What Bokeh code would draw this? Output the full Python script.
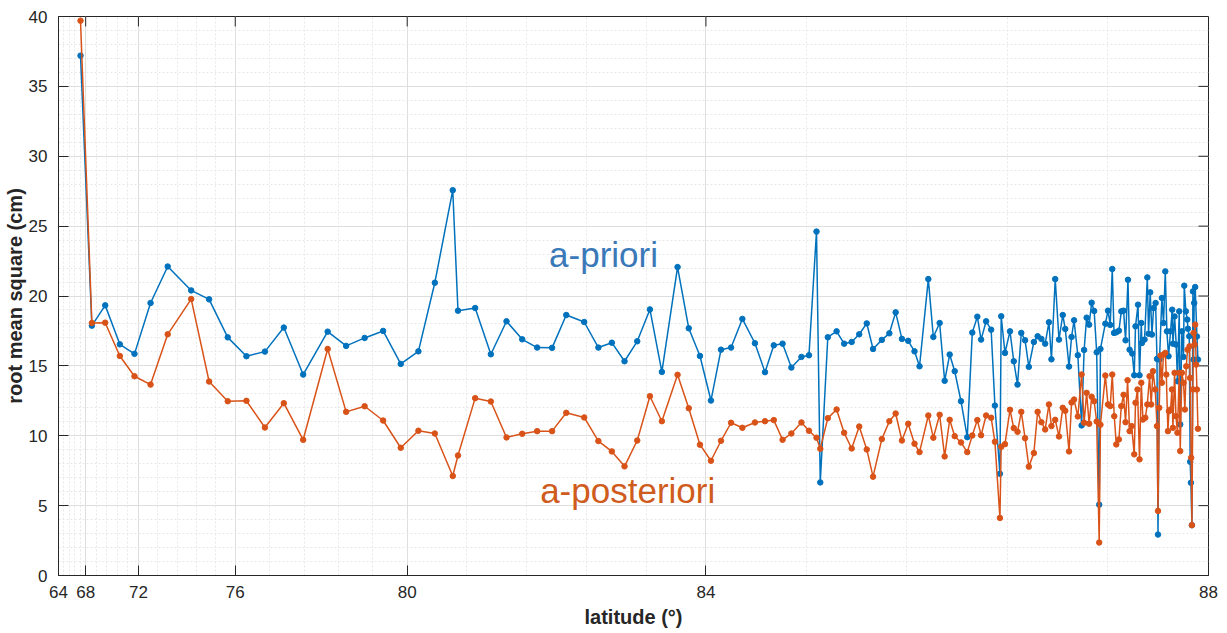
import numpy as np
from bokeh.plotting import figure
from bokeh.models import FixedTicker, Range1d, Label, SingleIntervalTicker
from bokeh.embed import file_html
from bokeh.resources import INLINE

# ---------------- data ----------------
TICK_LAT = [64, 68, 72, 76, 80, 84, 88]
MINOR_STEP_LAT = 0.8
Y_TICKS = [0, 5, 10, 15, 20, 25, 30, 35, 40]

LAT = [67.24, 68.47, 69.48, 70.59, 71.70, 72.50, 73.21, 74.18, 74.92, 75.69,
       76.26, 76.69, 77.13, 77.58, 78.15, 78.58, 79.01, 79.44, 79.85, 80.15,
       80.37, 80.61, 80.68, 80.91, 81.12, 81.33, 81.54, 81.74, 81.94, 82.13,
       82.37, 82.56, 82.74, 82.91, 83.08, 83.25, 83.41, 83.62, 83.77, 83.92,
       84.04, 84.12, 84.20, 84.29, 84.39, 84.47, 84.54, 84.61, 84.68, 84.76,
       84.82, 84.88, 84.91, 84.97, 85.04, 85.10, 85.16, 85.22, 85.28, 85.33,
       85.40, 85.46, 85.51, 85.56, 85.61, 85.66, 85.70, 85.77, 85.81, 85.86,
       85.90, 85.94, 85.98, 86.03, 86.08, 86.12, 86.16, 86.19, 86.23, 86.27,
       86.30, 86.34, 86.35, 86.38, 86.42, 86.45, 86.48, 86.51, 86.54, 86.57,
       86.61, 86.64, 86.67, 86.70, 86.73, 86.75, 86.78, 86.81, 86.84, 86.86,
       86.89, 86.91, 86.93, 86.96, 86.99, 87.01, 87.03, 87.05, 87.07, 87.09,
       87.11, 87.13, 87.14]

A_PRIORI = [37.2, 17.88, 19.33, 16.54, 15.86, 19.50, 22.11, 20.40, 19.76, 17.04,
            15.69, 16.02, 17.74, 14.38, 17.45, 16.43, 17.00, 17.50, 15.14, 16.04,
            20.95, 27.57, 18.95, 19.14, 15.83, 18.19, 16.90, 16.31, 16.29, 18.64,
            18.14, 16.31, 16.66, 15.33, 16.76, 19.04, 14.57, 22.07, 17.69, 15.71,
            12.52, 16.16, 16.31, 18.36, 16.62, 14.55, 16.47, 16.59, 14.88, 15.64,
            15.76, 24.61, 6.66, 17.05, 17.47, 16.59, 16.71, 17.26, 18.04, 16.21,
            16.86, 17.33, 18.83, 16.93, 16.79, 16.04, 14.97, 21.21, 17.07, 18.07,
            13.93, 15.81, 14.62, 12.47, 9.90, 17.38, 18.52, 16.88, 18.19, 17.59,
            12.16, 7.28, 18.55, 15.93, 17.47, 15.33, 13.66, 17.36, 16.83, 14.93,
            16.71, 17.12, 16.93, 16.59, 18.12, 15.47, 21.21, 16.88, 18.64, 17.64,
            14.95, 17.07, 18.26, 15.76, 10.74, 16.14, 18.45, 17.95, 19.52, 18.93,
            15.97, 5.07, 16.21]

A_POSTERIORI = [39.7, 18.07, 18.09, 15.71, 14.26, 13.66, 17.26, 19.78, 13.88, 12.47,
                12.50, 10.59, 12.33, 9.71, 16.21, 11.71, 12.11, 11.09, 9.14, 10.36,
                10.16, 7.12, 8.59, 12.69, 12.45, 9.88, 10.14, 10.33, 10.33, 11.64,
                11.31, 9.62, 8.88, 7.81, 9.66, 12.83, 11.04, 14.36, 11.97, 9.36,
                8.21, 9.64, 10.93, 10.57, 10.95, 11.04, 11.12, 9.71, 10.16, 10.95,
                10.36, 9.86, 9.07, 11.26, 11.88, 10.21, 9.09, 10.66, 9.02, 7.07,
                9.76, 11.04, 11.59, 9.66, 10.86, 9.43, 8.83, 11.45, 9.86, 11.50,
                8.52, 11.14, 9.97, 9.52, 8.83, 10.02, 11.12, 10.04, 11.45, 11.29,
                9.57, 4.12, 9.21, 9.40, 11.86, 10.55, 10.28, 11.71, 9.83, 7.79,
                8.76, 11.71, 10.97, 10.45, 12.24, 10.69, 11.14, 9.95, 12.00, 11.79,
                8.88, 12.38, 12.59, 11.38, 14.38, 10.93, 13.07, 10.86, 12.79, 12.47,
                11.02, 2.36, 10.79]

LAT_TAIL_PRIORI = [87.179, 87.200, 87.218, 87.234, 87.248, 87.266, 87.287, 87.306, 87.324, 87.340,
                   87.359, 87.372, 87.393, 87.409, 87.419, 87.439, 87.451, 87.465, 87.470, 87.491,
                   87.513, 87.523, 87.536, 87.550, 87.563, 87.579, 87.590, 87.598, 87.610, 87.629,
                   87.642, 87.656, 87.669, 87.682, 87.698, 87.711, 87.717, 87.730, 87.743, 87.753,
                   87.767, 87.775, 87.788, 87.801, 87.807, 87.820, 87.831, 87.836, 87.847, 87.854,
                   87.860, 87.868, 87.876, 87.881, 87.886, 87.894, 87.908, 87.916]
TAIL_PRIORI = [18.02, 18.95, 17.93, 21.93, 17.36, 17.40, 17.52, 18.90, 18.95, 16.83,
               21.16, 16.16, 15.88, 14.33, 17.83, 19.38, 14.33, 18.07, 16.64, 16.88,
               21.33, 17.30, 20.26, 17.24, 19.14, 19.50, 15.50, 2.93, 15.45, 19.86,
               18.07, 21.76, 17.47, 15.69, 17.47, 19.02, 16.59, 18.54, 16.52, 13.90,
               18.90, 10.81, 17.47, 15.64, 20.74, 18.90, 18.31, 17.66, 17.12, 8.14,
               6.64, 3.60, 20.33, 15.45, 19.50, 20.64, 17.10, 15.45]

LAT_TAIL_POST = [87.179, 87.200, 87.218, 87.234, 87.250, 87.266, 87.287, 87.306, 87.324, 87.340,
                 87.356, 87.372, 87.388, 87.409, 87.419, 87.435, 87.451, 87.465, 87.478, 87.497,
                 87.513, 87.531, 87.544, 87.558, 87.576, 87.590, 87.598, 87.608, 87.618, 87.629,
                 87.642, 87.656, 87.664, 87.677, 87.685, 87.698, 87.709, 87.717, 87.730, 87.741,
                 87.753, 87.767, 87.775, 87.788, 87.801, 87.812, 87.823, 87.833, 87.849, 87.854,
                 87.862, 87.868, 87.876, 87.881, 87.889, 87.894, 87.902, 87.908, 87.916]
TAIL_POST = [14.31, 12.24, 12.12, 14.38, 11.40, 9.38, 9.74, 12.12, 12.93, 10.97,
             13.97, 10.33, 10.69, 8.67, 12.36, 13.31, 8.31, 13.79, 11.16, 11.29,
             12.24, 14.26, 12.24, 14.62, 13.31, 10.69, 4.62, 12.00, 15.74, 13.79,
             15.81, 15.93, 14.38, 10.33, 11.76, 11.88, 13.31, 10.57, 14.50, 11.40,
             10.21, 14.50, 8.90, 14.50, 13.79, 11.88, 14.97, 16.16, 16.40, 14.14,
             8.43, 3.60, 13.31, 17.36, 16.52, 17.95, 15.09, 13.31, 10.50]

# ---------------- non-linear latitude axis (piecewise warp) ----------------
AXIS_POS = [0.0, 27.2, 80.0, 176.9, 349.0, 648.0, 1151.0]


def warp(lat):
    return np.interp(np.asarray(lat, dtype=float), TICK_LAT, AXIS_POS)


BLUE = "#0072BD"
ORANGE = "#D95319"
AXC = "#262626"
FONT = "Liberation Sans"

W, H = 1220, 630
ML, MR, MT, MB = 57, 12, 16, 53
FRAME_W = W - ML - MR
FRAME_H = H - MT - MB
TICK_LEN = 10  # px, inward

lat_b = LAT + LAT_TAIL_PRIORI
val_b = A_PRIORI + TAIL_PRIORI
lat_o = LAT + LAT_TAIL_POST
val_o = A_POSTERIORI + TAIL_POST

x0, x1 = AXIS_POS[0], AXIS_POS[-1]
y0, y1 = Y_TICKS[0], Y_TICKS[-1]

p = figure(width=W, height=H, output_backend="svg", toolbar_location=None,
           x_range=Range1d(x0, x1), y_range=Range1d(y0, y1),
           min_border_left=ML, min_border_right=MR, min_border_top=MT,
           min_border_bottom=MB, background_fill_color="white",
           border_fill_color="white", outline_line_color=AXC,
           outline_line_width=1)

n_minor = int(round((TICK_LAT[-1] - TICK_LAT[0]) / MINOR_STEP_LAT))
minor_lat = [TICK_LAT[0] + i * MINOR_STEP_LAT for i in range(1, n_minor)]
minor_lat = [m for m in minor_lat if min(abs(m - t) for t in TICK_LAT) > 1e-6]
xt = FixedTicker(ticks=list(AXIS_POS), minor_ticks=warp(minor_lat).tolist())
yt = SingleIntervalTicker(interval=5, num_minor_ticks=5)

p.xaxis.ticker = xt
p.xaxis.major_label_overrides = {pos: str(lat) for pos, lat in zip(AXIS_POS, TICK_LAT)}
p.yaxis.ticker = yt

for ax in [p.xaxis[0], p.yaxis[0]]:
    ax.axis_line_color = AXC
    ax.major_tick_line_color = AXC
    ax.major_tick_in = TICK_LEN
    ax.major_tick_out = 0
    ax.minor_tick_line_color = None
    ax.major_label_text_font = FONT
    ax.major_label_text_font_size = "17px"
    ax.major_label_text_color = AXC
    ax.axis_label_text_font = FONT
    ax.axis_label_text_font_size = "20px"
    ax.axis_label_text_font_style = "bold"
    ax.axis_label_text_color = AXC

p.xaxis.axis_label = "latitude (°)"
p.yaxis.axis_label = "root mean square (cm)"
p.xaxis.major_label_standoff = 6
p.xaxis.axis_label_standoff = 5
p.yaxis.major_label_standoff = 7
p.yaxis.axis_label_standoff = 0

# inward ticks on the top and right edges of the box
dy = TICK_LEN * (y1 - y0) / FRAME_H
dx = TICK_LEN * (x1 - x0) / FRAME_W
top_x = AXIS_POS[1:-1]
p.segment(x0=top_x, y0=[y1] * len(top_x), x1=top_x, y1=[y1 - dy] * len(top_x),
          line_color=AXC, line_width=1)
right_y = Y_TICKS[1:-1]
p.segment(x0=[x1] * len(right_y), y0=right_y, x1=[x1 - dx] * len(right_y), y1=right_y,
          line_color=AXC, line_width=1)

# grids
for g in (p.xgrid, p.ygrid):
    g.grid_line_color = "#dedede"
    g.minor_grid_line_color = "#e8e8e8"
    g.minor_grid_line_dash = "2 2"

# series
xb = warp(lat_b)
xo = warp(lat_o)
p.line(xb, val_b, line_color=BLUE, line_width=1.5)
p.scatter(xb, val_b, marker="circle", size=5.5, fill_color=BLUE, line_color=BLUE)
p.line(xo, val_o, line_color=ORANGE, line_width=1.5)
p.scatter(xo, val_o, marker="circle", size=5.5, fill_color=ORANGE, line_color=ORANGE)

# in-plot labels
p.add_layout(Label(x=float(warp(81.9)), y=23.0, text="a-priori",
                   text_font=FONT, text_font_size="35px", text_color="#3A78B8",
                   text_align="left", text_baseline="alphabetic"))
p.add_layout(Label(x=float(warp(81.78)), y=6.09, text="a-posteriori",
                   text_font=FONT, text_font_size="35px", text_color="#CF5B1C",
                   text_align="left", text_baseline="alphabetic"))

open("out.html", "w").write(file_html(p, INLINE))
